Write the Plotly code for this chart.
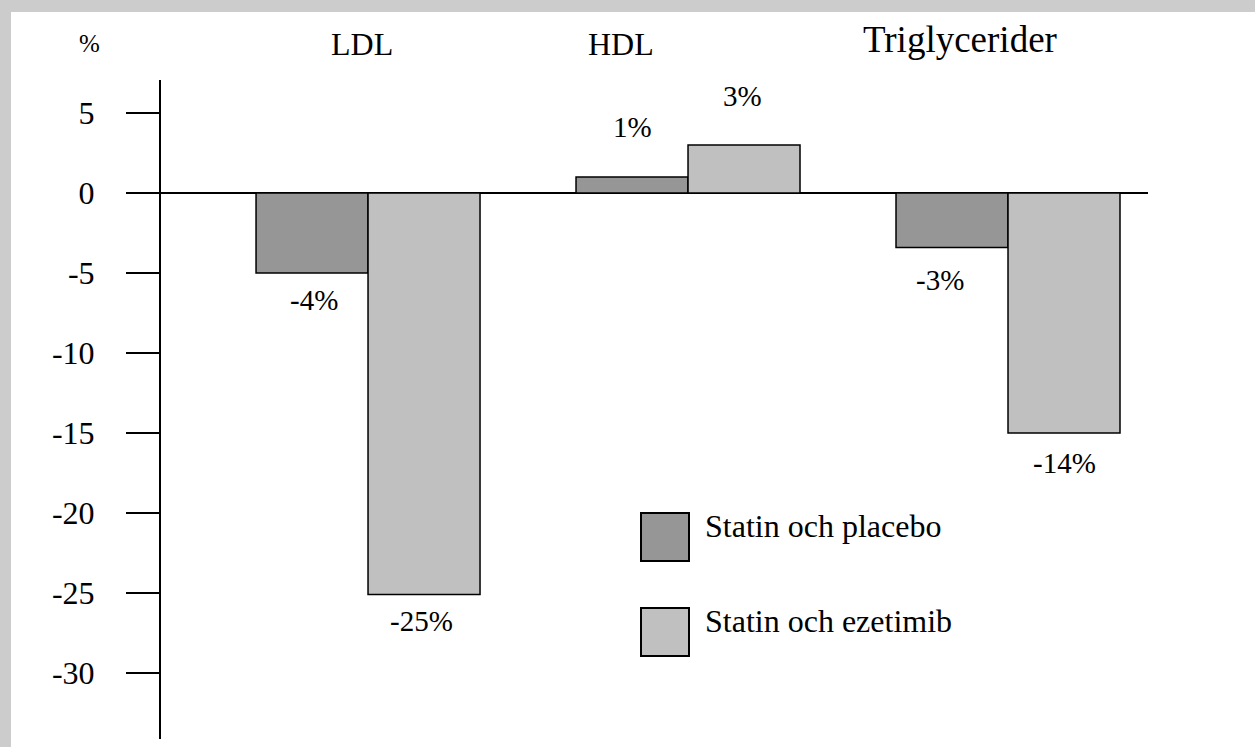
import plotly.graph_objects as go

# ---- data ----
categories = ["LDL", "HDL", "Triglycerider"]
series_names = ["Statin och placebo", "Statin och ezetimib"]
placebo_values = [-5.0, 1.0, -3.4]
ezetimib_values = [-25.1, 3.0, -15.0]
placebo_labels = ["-4%", "1%", "-3%"]
ezetimib_labels = ["-25%", "3%", "-14%"]
y_tick_values = [5, 0, -5, -10, -15, -20, -25, -30]
y_tick_labels = ["5", "0", "-5", "-10", "-15", "-20", "-25", "-30"]

# ---- style ----
FONT = "Liberation Serif, Times New Roman, serif"
C_PLACEBO = "#969696"
C_EZE = "#c0c0c0"
W, H = 1255, 747
L, T, R, B = 161, 80, 1148, 739  # plot area in px
PW, PH = R - L, B - T
placebo_label_shift = [(2, -27), (0, 50), (-12, -33)]
ezetimib_label_shift = [(-3, -26), (-2, 49), (0, -30)]


def px_x(px):
    return (px - L) / PW


def px_y(py):
    return (B - py) / PH


fig = go.Figure()
fig.add_trace(go.Bar(name=series_names[0], x=categories, y=placebo_values,
                     marker=dict(color=C_PLACEBO, line=dict(color="black", width=1.5))))
fig.add_trace(go.Bar(name=series_names[1], x=categories, y=ezetimib_values,
                     marker=dict(color=C_EZE, line=dict(color="black", width=1.5))))

annotations = []
offset = 0.175
for vals, labs, dx, shifts in [(placebo_values, placebo_labels, -offset, placebo_label_shift),
                               (ezetimib_values, ezetimib_labels, offset, ezetimib_label_shift)]:
    for j, (v, lab, (sx, sy)) in enumerate(zip(vals, labs, shifts)):
        annotations.append(dict(x=j + dx, y=v, xref="x", yref="y", text=lab,
                                showarrow=False, yanchor="middle",
                                xshift=sx, yshift=sy,
                                font=dict(family=FONT, size=29, color="black")))

# category titles above the plot
title_pos = [(-0.02, 44, 32), (0.79, 44, 32), (1.85, 39, 37)]
for cat, (cx, cy, fs) in zip(categories, title_pos):
    annotations.append(dict(x=cx, y=px_y(cy), xref="x", yref="paper", text=cat,
                            showarrow=False, xanchor="center", yanchor="middle",
                            font=dict(family=FONT, size=fs, color="black")))

# % unit label
annotations.append(dict(x=px_x(89), y=px_y(43), xref="paper", yref="paper", text="%",
                        showarrow=False, xanchor="center", yanchor="middle",
                        font=dict(family=FONT, size=25, color="black")))

# white page area (grey frame on top and left) + custom legend
shapes = [dict(type="rect", xref="paper", yref="paper", x0=px_x(11), x1=px_x(1300),
               y0=px_y(800), y1=px_y(12), fillcolor="white", line=dict(width=0),
               layer="below")]
legend_rows = [(C_PLACEBO, series_names[0], 513, 526), (C_EZE, series_names[1], 608, 621)]
for col, name, top, tcy in legend_rows:
    shapes.append(dict(type="rect", xref="paper", yref="paper",
                       x0=px_x(641), x1=px_x(689), y0=px_y(top + 48), y1=px_y(top),
                       fillcolor=col, line=dict(color="black", width=2)))
    annotations.append(dict(x=px_x(703), y=px_y(tcy), xref="paper", yref="paper",
                            text=name, showarrow=False, xanchor="left", yanchor="middle",
                            font=dict(family=FONT, size=32, color="black")))

fig.update_layout(
    width=W, height=H,
    margin=dict(l=L, r=W - R, t=T, b=H - B, pad=0),
    paper_bgcolor="#cccccc", plot_bgcolor="white",
    barmode="group", bargap=0.3, bargroupgap=0,
    showlegend=False,
    font=dict(family=FONT, size=32, color="black"),
    annotations=annotations, shapes=shapes,
    xaxis=dict(range=[-0.647, 2.4375], showticklabels=False, showline=False,
               showgrid=False, zeroline=False, ticks=""),
    yaxis=dict(range=[(193 - B) / 16, (193 - T) / 16], tickvals=y_tick_values,
               ticktext=y_tick_labels, ticks="outside", ticklen=33, tickwidth=2,
               tickcolor="black", showline=True, linewidth=2, linecolor="black",
               showgrid=False, zeroline=True, zerolinewidth=2, zerolinecolor="black",
               ticklabelstandoff=25,
               tickfont=dict(family=FONT, size=32, color="black")),
)

fig.write_html(
    "out.html",
    config={"displayModeBar": False},
    post_script="document.body.style.margin='0';document.body.style.overflow='hidden';",
)
